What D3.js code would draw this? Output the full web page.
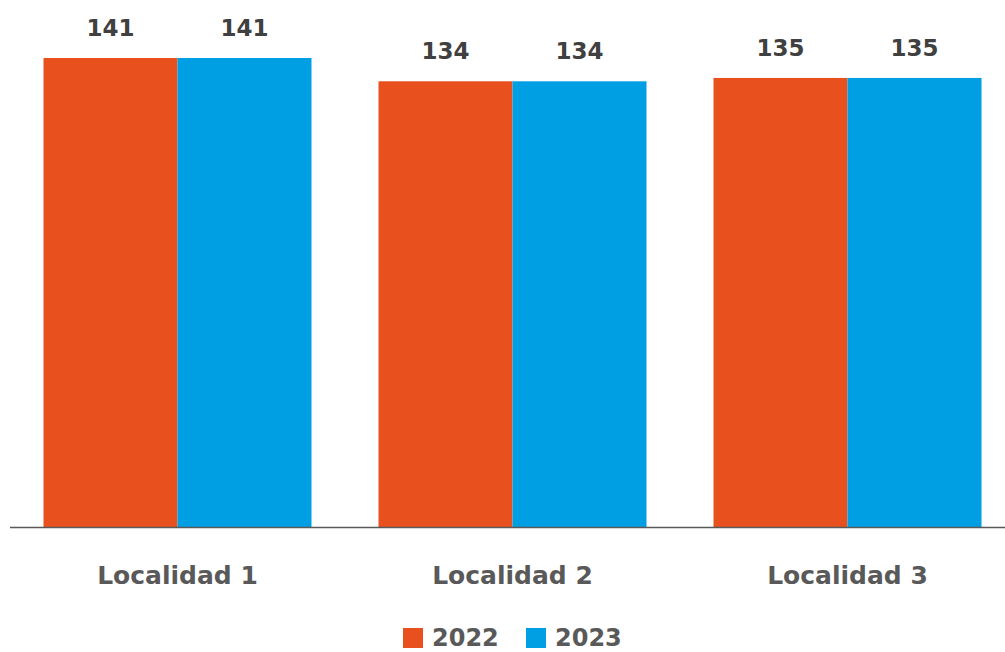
<!DOCTYPE html>
<meta charset="utf-8">
<style>
  body { margin: 0; background: #fff; }
  svg text { font-family: "DejaVu Sans", "Open Sans", sans-serif; font-weight: 700; }
</style>
<body>
<svg id="chart" width="1005" height="652"></svg>
<script src="https://d3js.org/d3.v7.min.js"></script>
<script>
var categories = ["Localidad 1", "Localidad 2", "Localidad 3"];
var seriesNames = ["2022", "2023"];
var values2022 = [141, 134, 135];
var values2023 = [141, 134, 135];
var colors = ["#e8501e", "#009fe3"];

var svg = d3.select("#chart");
var baseY = 527;

var x0 = d3.scaleBand().domain(categories).range([10, 1015]).paddingInner(0.2).paddingOuter(0.1);
var x1 = d3.scaleBand().domain(seriesNames).range([0, x0.bandwidth()]);
var y = d3.scaleLinear().domain([0, 141]).range([baseY, 58]);
var color = d3.scaleOrdinal().domain(seriesNames).range(colors);

var rows = categories.map(function(c, i) {
  return { cat: c, vals: [
    { key: "2022", v: values2022[i] },
    { key: "2023", v: values2023[i] }
  ]};
});

var groups = svg.selectAll("g.grp")
  .data(rows)
  .enter().append("g")
  .attr("class", "grp")
  .attr("transform", function(d) { return "translate(" + x0(d.cat) + ",0)"; });

groups.selectAll("rect")
  .data(function(d) { return d.vals; })
  .enter().append("rect")
  .attr("x", function(d) { return x1(d.key); })
  .attr("width", x1.bandwidth())
  .attr("y", function(d) { return y(d.v); })
  .attr("height", function(d) { return baseY - y(d.v); })
  .attr("fill", function(d) { return color(d.key); });

groups.selectAll("text.val")
  .data(function(d) { return d.vals; })
  .enter().append("text")
  .attr("class", "val")
  .attr("x", function(d) { return x1(d.key) + x1.bandwidth() / 2; })
  .attr("y", function(d) { return y(d.v) - 22; })
  .attr("text-anchor", "middle")
  .attr("font-size", 23)
  .attr("fill", "#404040")
  .text(function(d) { return d.v; });

// baseline
svg.append("line")
  .attr("x1", 10).attr("x2", 1005)
  .attr("y1", baseY + 0.5).attr("y2", baseY + 0.5)
  .attr("stroke", "#595959").attr("stroke-width", 1.5);

// category labels
var xAxis = d3.axisBottom(x0).tickSize(0).tickPadding(0);
var ax = svg.append("g").attr("transform", "translate(0," + baseY + ")").call(xAxis);
ax.select(".domain").remove();
ax.selectAll("text")
  .attr("y", 57)
  .attr("dy", 0)
  .attr("font-size", 25)
  .attr("fill", "#595959")
  .style("font-family", "'DejaVu Sans', 'Open Sans', sans-serif")
  .style("font-weight", 700);

// legend
var legendX = [403, 526];
var leg = svg.selectAll("g.leg")
  .data(seriesNames)
  .enter().append("g")
  .attr("class", "leg")
  .attr("transform", function(d, i) { return "translate(" + legendX[i] + ",628)"; });
leg.append("rect").attr("width", 20).attr("height", 20).attr("fill", function(d) { return color(d); });
leg.append("text")
  .attr("x", 29).attr("y", 18)
  .attr("font-size", 24)
  .attr("fill", "#595959")
  .text(function(d) { return d; });
</script>
</body>
